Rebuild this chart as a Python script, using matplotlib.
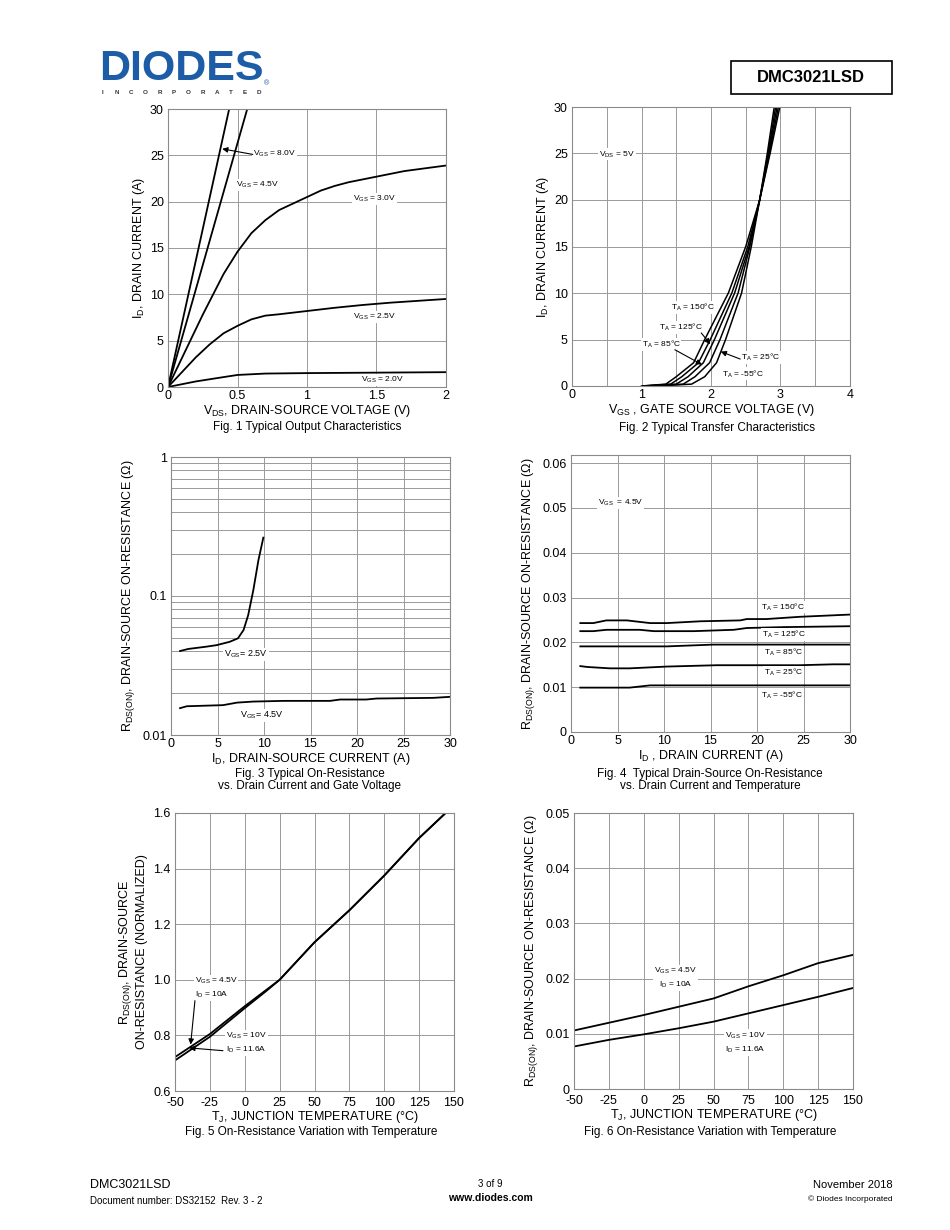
import matplotlib
matplotlib.use('Agg')
import matplotlib.pyplot as plt
from matplotlib.patches import Rectangle
from matplotlib.ticker import MultipleLocator, LogLocator, FuncFormatter, NullFormatter

plt.rcParams['font.family'] = ['Liberation Sans', 'DejaVu Sans']
plt.rcParams['mathtext.default'] = 'regular'
plt.rcParams['axes.unicode_minus'] = False

W, H = 950, 1230

# ---- Fig 1: output characteristics (VDS in V, ID in A)
vds_8v0 = [0, 0.44]
id_8v0 = [0, 30]
vds_4v5 = [0, 0.57]
id_4v5 = [0, 30]
vds_3v0 = [0, 0.25, 0.4, 0.5, 0.6, 0.7, 0.8, 0.9, 1.0, 1.1, 1.2, 1.3, 1.4, 1.5, 1.6, 1.7, 1.8, 1.9, 2.0]
id_3v0 = [0, 7.8, 12.2, 14.6, 16.6, 18.0, 19.1, 19.8, 20.5, 21.2, 21.7, 22.1, 22.4, 22.7, 23.0, 23.3, 23.5, 23.7, 23.9]
vds_2v5 = [0, 0.1, 0.2, 0.3, 0.4, 0.5, 0.6, 0.7, 0.8, 1.0, 1.2, 1.4, 1.6, 1.8, 2.0]
id_2v5 = [0, 1.6, 3.2, 4.6, 5.8, 6.6, 7.3, 7.7, 7.85, 8.2, 8.55, 8.85, 9.1, 9.3, 9.5]
vds_2v0 = [0, 0.2, 0.37, 0.5, 0.7, 1.0, 1.5, 2.0]
id_2v0 = [0, 0.6, 1.0, 1.3, 1.45, 1.5, 1.55, 1.6]

# ---- Fig 2: transfer characteristics (VGS at given ID)
id_tr = [0, 0.2, 1, 2.5, 5, 10, 15, 20, 25, 30]
vgs_150 = [1.00, 1.35, 1.50, 1.75, 1.91, 2.25, 2.50, 2.70, 2.85, 2.99]
vgs_125 = [1.02, 1.42, 1.58, 1.82, 1.99, 2.30, 2.53, 2.70, 2.84, 2.97]
vgs_85 = [1.05, 1.50, 1.67, 1.89, 2.05, 2.34, 2.55, 2.70, 2.83, 2.95]
vgs_25 = [1.10, 1.60, 1.77, 1.98, 2.13, 2.39, 2.56, 2.70, 2.82, 2.93]
vgs_m55 = [1.20, 1.72, 1.91, 2.08, 2.21, 2.44, 2.58, 2.70, 2.81, 2.91]

# ---- Fig 3: RDS(on) vs ID and VGS
id_r25 = [0.97, 1.86, 3.8, 4.9, 6.3, 7.2, 7.8, 8.3, 8.85, 9.4, 9.93]
r_25 = [0.0402, 0.0416, 0.0432, 0.0443, 0.0468, 0.0496, 0.0569, 0.0728, 0.110, 0.181, 0.263]
id_r45 = [0.97, 1.7, 5.6, 7.1, 8.85, 12.1, 17.1, 18.2, 21.0, 22.1, 28.2, 29.9]
r_45 = [0.0156, 0.0161, 0.0164, 0.0171, 0.0174, 0.0176, 0.0176, 0.0180, 0.0180, 0.0183, 0.0185, 0.0188]

# ---- Fig 4: RDS(on) vs ID and temperature
id_t150 = [1, 2.4, 3.8, 6, 8.5, 10.3, 13.9, 18.2, 18.9, 21, 24.6, 30]
r_t150 = [0.0243, 0.0243, 0.0249, 0.0249, 0.0243, 0.0243, 0.0247, 0.0249, 0.0252, 0.0252, 0.0257, 0.0262]
id_t125 = [1, 2.4, 3.8, 7.4, 8.9, 13.2, 17.5, 18.9, 22.8, 30]
r_t125 = [0.0225, 0.0225, 0.0228, 0.0228, 0.0225, 0.0225, 0.0228, 0.0232, 0.0234, 0.0236]
id_t85 = [1, 10.3, 15.3, 30]
r_t85 = [0.0191, 0.0191, 0.0195, 0.0195]
id_t25 = [1, 1.8, 4.2, 6.3, 10.3, 15.7, 24.6, 28.2, 30]
r_t25 = [0.0147, 0.0145, 0.0142, 0.0142, 0.0146, 0.0149, 0.0149, 0.0151, 0.0151]
id_tm55 = [1, 6.3, 8.5, 30]
r_tm55 = [0.0099, 0.0099, 0.0104, 0.0104]

# ---- Fig 5: normalized RDS(on) vs TJ
tj5 = [-50, -25, 0, 15, 25, 50, 75, 100, 125, 144]
rn_45 = [0.722, 0.805, 0.905, 0.962, 1.0, 1.135, 1.25, 1.375, 1.51, 1.6]
rn_10 = [0.71, 0.795, 0.898, 0.958, 1.0, 1.135, 1.25, 1.375, 1.51, 1.6]

# ---- Fig 6: RDS(on) vs TJ
tj6 = [-50, -25, 0, 25, 50, 75, 100, 125, 150]
r6_45 = [0.0106, 0.0120, 0.0134, 0.0149, 0.0164, 0.0186, 0.0206, 0.0228, 0.0243]
r6_10 = [0.0077, 0.0089, 0.0099, 0.0110, 0.0122, 0.0137, 0.0152, 0.0167, 0.0183]

fig = plt.figure(figsize=(9.5, 12.3), dpi=100)


def px(x, y):
    return x / W, 1 - y / H


def make_ax(left, top, right, bottom):
    ax = fig.add_axes([left / W, 1 - bottom / H, (right - left) / W, (bottom - top) / H])
    ax.tick_params(which='both', length=0, labelsize=9, pad=3)
    ax.tick_params(axis='x', pad=2)
    for s in ax.spines.values():
        s.set_color('#8a8a8a')
        s.set_linewidth(0.8)
    ax.set_axisbelow(True)
    return ax


def lab(ax, x, y, s, size=6, **kw):
    kw.setdefault('ha', 'left')
    kw.setdefault('va', 'center')
    ax.text(x, y, s, fontsize=size, bbox=dict(fc='white', ec='none', pad=0.6), zorder=4, **kw)


def arrow(ax, x0, y0, x1, y1):
    ax.annotate('', xy=(x1, y1), xytext=(x0, y0),
                arrowprops=dict(arrowstyle='-|>', color='black', lw=0.8, mutation_scale=8,
                                shrinkA=0, shrinkB=0), zorder=5)


gfmt = FuncFormatter(lambda v, p: f'{v:g}')
grid_kw = dict(color='#9a9a9a', lw=0.7)
line_kw = dict(color='black', lw=1.3)

# Fig 1
ax1 = make_ax(168, 109, 446, 387)
for v, i in [(vds_8v0, id_8v0), (vds_4v5, id_4v5), (vds_3v0, id_3v0), (vds_2v5, id_2v5), (vds_2v0, id_2v0)]:
    ax1.plot(v, i, **line_kw)
ax1.set_xlim(0, 2)
ax1.set_ylim(0, 30)
ax1.xaxis.set_major_locator(MultipleLocator(0.5))
ax1.yaxis.set_major_locator(MultipleLocator(5))
ax1.xaxis.set_major_formatter(gfmt)
ax1.grid(True, **grid_kw)
ax1.set_xlabel('V$_{DS}$, DRAIN-SOURCE VOLTAGE (V)', fontsize=9, labelpad=1)
ax1.set_ylabel('I$_D$, DRAIN CURRENT (A)', fontsize=9, labelpad=2)
lab(ax1, 0.612, 25.2, 'V$_{GS}$ = 8.0V')
arrow(ax1, 0.61, 25.1, 0.39, 25.7)
lab(ax1, 0.49, 21.8, 'V$_{GS}$ = 4.5V')
lab(ax1, 1.33, 20.3, 'V$_{GS}$ = 3.0V')
lab(ax1, 1.33, 7.6, 'V$_{GS}$ = 2.5V')
lab(ax1, 1.39, 0.8, 'V$_{GS}$ = 2.0V')

# Fig 2
ax2 = make_ax(572, 107, 850, 386)
for v in [vgs_150, vgs_125, vgs_85, vgs_25, vgs_m55]:
    ax2.plot(v, id_tr, color='black', lw=1.1)
ax2.set_xlim(0, 4)
ax2.set_ylim(0, 30)
ax2.xaxis.set_major_locator(MultipleLocator(1))
ax2.xaxis.set_minor_locator(MultipleLocator(0.5))
ax2.yaxis.set_major_locator(MultipleLocator(5))
ax2.grid(True, which='both', axis='x', **grid_kw)
ax2.grid(True, which='major', axis='y', **grid_kw)
ax2.set_xlabel('V$_{GS}$ , GATE SOURCE VOLTAGE (V)', fontsize=9, labelpad=1)
ax2.set_ylabel('I$_D$, DRAIN CURRENT (A)', fontsize=9, labelpad=2)
lab(ax2, 0.39, 24.9, 'V$_{DS}$ = 5V')
lab(ax2, 1.43, 8.4, 'T$_A$ = 150°C')
lab(ax2, 1.25, 6.3, 'T$_A$ = 125°C')
arrow(ax2, 1.86, 5.7, 1.99, 4.5)
lab(ax2, 1.0, 4.5, 'T$_A$ = 85°C')
arrow(ax2, 1.48, 3.9, 1.87, 2.3)
lab(ax2, 2.43, 3.1, 'T$_A$ = 25°C')
arrow(ax2, 2.42, 2.9, 2.14, 3.7)
lab(ax2, 2.16, 1.3, 'T$_A$ = -55°C')

# Fig 3
ax3 = make_ax(171, 457, 450, 735)
ax3.plot(id_r25, r_25, **line_kw)
ax3.plot(id_r45, r_45, **line_kw)
ax3.set_yscale('log')
ax3.set_xlim(0, 30)
ax3.set_ylim(0.01, 1)
ax3.xaxis.set_major_locator(MultipleLocator(5))
ax3.yaxis.set_major_locator(LogLocator(base=10))
ax3.yaxis.set_minor_locator(LogLocator(base=10, subs=range(2, 10)))
ax3.yaxis.set_major_formatter(gfmt)
ax3.yaxis.set_minor_formatter(NullFormatter())
ax3.grid(True, which='both', axis='y', **grid_kw)
ax3.grid(True, which='major', axis='x', **grid_kw)
ax3.set_xlabel('I$_D$, DRAIN-SOURCE CURRENT (A)', fontsize=9, labelpad=1)
ax3.set_ylabel('R$_{DS(ON)}$, DRAIN-SOURCE ON-RESISTANCE (Ω)', fontsize=9, labelpad=4)
lab(ax3, 5.7, 0.0378, 'V$_{GS}$= 2.5V', size=6.5)
lab(ax3, 7.4, 0.0138, 'V$_{GS}$= 4.5V', size=6.5)

# Fig 4
ax4 = make_ax(571, 455, 850, 732)
for i, r in [(id_t150, r_t150), (id_t125, r_t125), (id_t85, r_t85), (id_t25, r_t25), (id_tm55, r_tm55)]:
    ax4.plot(i, r, **line_kw)
ax4.set_xlim(0, 30)
ax4.set_ylim(0, 0.0618)
ax4.xaxis.set_major_locator(MultipleLocator(5))
ax4.yaxis.set_major_locator(MultipleLocator(0.01))
ax4.yaxis.set_major_formatter(gfmt)
ax4.grid(True, **grid_kw)
ax4.set_xlabel('I$_D$ , DRAIN CURRENT (A)', fontsize=9, labelpad=1)
ax4.set_ylabel('R$_{DS(ON)}$, DRAIN-SOURCE ON-RESISTANCE (Ω)', fontsize=9, labelpad=4)
lab(ax4, 2.9, 0.0511, 'V$_{GS}$  = 4.5V')
lab(ax4, 20.4, 0.0279, 'T$_A$ = 150°C')
lab(ax4, 20.5, 0.0217, 'T$_A$ = 125°C')
lab(ax4, 20.7, 0.0178, 'T$_A$ = 85°C')
lab(ax4, 20.7, 0.0134, 'T$_A$ = 25°C')
lab(ax4, 20.4, 0.0082, 'T$_A$ = -55°C')

# Fig 5
ax5 = make_ax(175, 813, 454, 1091)
ax5.tick_params(axis='x', pad=4)
ax5.plot(tj5, rn_45, **line_kw)
ax5.plot(tj5, rn_10, **line_kw)
ax5.set_xlim(-50, 150)
ax5.set_ylim(0.6, 1.6)
ax5.xaxis.set_major_locator(MultipleLocator(25))
ax5.yaxis.set_major_locator(MultipleLocator(0.2))
ax5.yaxis.set_major_formatter(FuncFormatter(lambda v, p: f'{v:.1f}'))
ax5.grid(True, **grid_kw)
ax5.set_xlabel('T$_J$, JUNCTION TEMPERATURE (°C)', fontsize=9, labelpad=0)
ax5.set_ylabel('R$_{DS(ON)}$, DRAIN-SOURCE\nON-RESISTANCE (NORMALIZED)', fontsize=9, labelpad=4)
lab(ax5, -36, 0.97, 'V$_{GS}$ = 4.5V\nI$_D$ = 10A', linespacing=1.6)
arrow(ax5, -35.7, 0.925, -38.8, 0.767)
lab(ax5, -13.4, 0.772, 'V$_{GS}$ = 10V\nI$_D$ = 11.6A', linespacing=1.6)
arrow(ax5, -15.6, 0.745, -39.7, 0.755)

# Fig 6
ax6 = make_ax(574, 813, 853, 1089)
ax6.tick_params(axis='x', pad=4)
ax6.plot(tj6, r6_45, **line_kw)
ax6.plot(tj6, r6_10, **line_kw)
ax6.set_xlim(-50, 150)
ax6.set_ylim(0, 0.05)
ax6.xaxis.set_major_locator(MultipleLocator(25))
ax6.yaxis.set_major_locator(MultipleLocator(0.01))
ax6.yaxis.set_major_formatter(gfmt)
ax6.grid(True, **grid_kw)
ax6.set_xlabel('T$_J$, JUNCTION TEMPERATURE (°C)', fontsize=9, labelpad=0)
ax6.set_ylabel('R$_{DS(ON)}$, DRAIN-SOURCE ON-RESISTANCE (Ω)', fontsize=9, labelpad=4)
lab(ax6, 22.5, 0.0201, 'V$_{GS}$ = 4.5V\nI$_D$ = 10A', ha='center', linespacing=1.6)
lab(ax6, 73, 0.0084, 'V$_{GS}$ = 10V\nI$_D$ = 11.6A', ha='center', linespacing=1.6)

# captions
cap = dict(fontsize=8.5, ha='center', va='center')
fig.text(*px(307, 427), 'Fig. 1 Typical Output Characteristics', **cap)
fig.text(*px(717, 428), 'Fig. 2 Typical Transfer Characteristics', **cap)
fig.text(*px(310, 780), 'Fig. 3 Typical On-Resistance\nvs. Drain Current and Gate Voltage', linespacing=1.1, **cap)
fig.text(*px(710, 780), 'Fig. 4  Typical Drain-Source On-Resistance\nvs. Drain Current and Temperature', linespacing=1.1, **cap)
fig.text(*px(311, 1132), 'Fig. 5 On-Resistance Variation with Temperature', **cap)
fig.text(*px(710, 1132), 'Fig. 6 On-Resistance Variation with Temperature', **cap)

# header: logo and part number box
fig.text(*px(99, 69), 'DIODES', fontsize=31, fontweight='bold', color='#1d5ca6', ha='left', va='center')
for k, ch in enumerate('INCORPORATED'):
    fig.text(*px(103 + k * 14.2, 92), ch, fontsize=4.5, fontweight='bold', color='#333333', ha='center', va='center')
fig.text(*px(266, 84), '®', fontsize=5, color='#1d5ca6', ha='center', va='center')
fig.add_artist(Rectangle(px(731, 94), 161 / W, 33 / H, transform=fig.transFigure,
                         fill=False, ec='black', lw=1.2))
fig.text(*px(811, 78), 'DMC3021LSD', fontsize=12, fontweight='bold', ha='center', va='center')

# footer
fig.text(*px(90, 1185), 'DMC3021LSD', fontsize=9, ha='left', va='center')
fig.text(*px(90, 1201), 'Document number: DS32152  Rev. 3 - 2', fontsize=7, ha='left', va='center')
fig.text(*px(490, 1184), '3 of 9', fontsize=7, ha='center', va='center')
fig.text(*px(490, 1198), 'www.diodes.com', fontsize=7.5, fontweight='bold', ha='center', va='center')
fig.text(*px(893, 1185), 'November 2018', fontsize=8, ha='right', va='center')
fig.text(*px(893, 1199), '© Diodes Incorporated', fontsize=6, ha='right', va='center')

fig.savefig('out.png', dpi=100)
